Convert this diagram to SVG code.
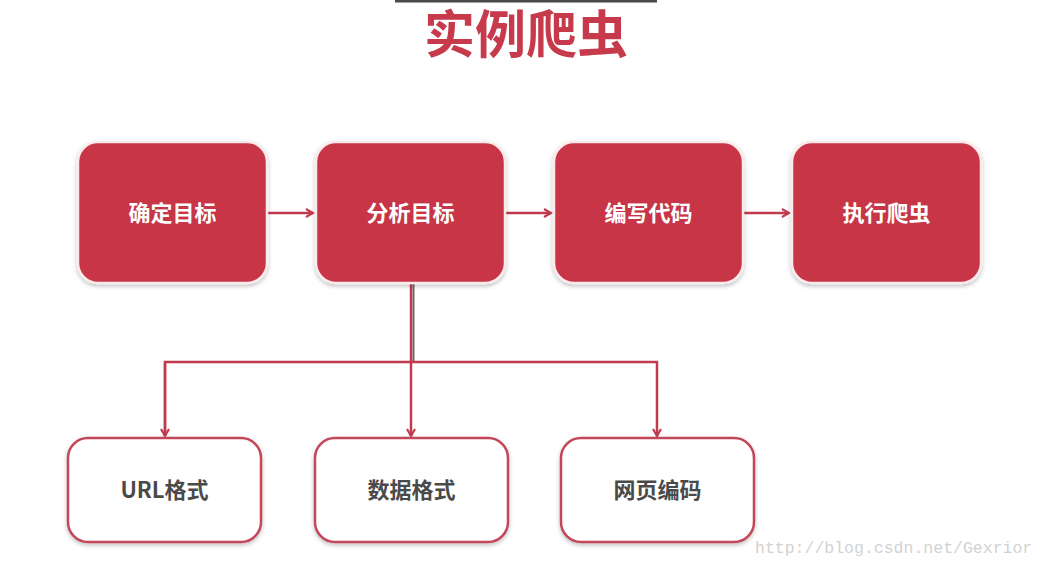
<svg xmlns="http://www.w3.org/2000/svg" width="1046" height="568" viewBox="0 0 1046 568">
<defs>
<style>
.top rect{fill:#c73647;stroke:#fbeaec;stroke-width:2.5}
.bot rect{fill:#fff;stroke:#c24658;stroke-width:2.5}
.tt{font-family:"Noto Sans CJK SC","Noto Sans",sans-serif;font-weight:700;font-size:22px;fill:#fff;text-anchor:middle}
.bt{font-family:"Noto Sans CJK SC","Noto Sans",sans-serif;font-weight:700;font-size:22px;fill:#4a4a4a;text-anchor:middle}
.ln{fill:none;stroke:#c23a4d;stroke-width:2.5}
</style>
<filter id="sh" x="-10%" y="-10%" width="120%" height="130%">
<feDropShadow dx="0" dy="2" stdDeviation="2" flood-color="#000" flood-opacity="0.25"/>
</filter>
<marker id="ah" markerWidth="10" markerHeight="10" refX="8" refY="5" orient="auto" markerUnits="userSpaceOnUse">
<path d="M1,1 L8,5 L1,9" fill="none" stroke="#c23a4d" stroke-width="2.2"/>
</marker>
</defs>
<rect width="1046" height="568" fill="#fff"/>
<rect x="395" y="0" width="262" height="2.5" fill="#4a4a4a"/>
<text x="526" y="53" font-family="'Noto Sans CJK SC',sans-serif" font-weight="700" font-size="51" fill="#c73a4c" text-anchor="middle">实例爬虫</text>
<g id="connectors">
<line class="ln" x1="268" y1="213" x2="313" y2="213" marker-end="url(#ah)"/>
<line class="ln" x1="506" y1="213" x2="551" y2="213" marker-end="url(#ah)"/>
<line class="ln" x1="744" y1="213" x2="789" y2="213" marker-end="url(#ah)"/>
<line x1="413.5" y1="284" x2="413.5" y2="362" stroke="#666" stroke-width="2"/>
<line class="ln" x1="411" y1="284" x2="411" y2="436" marker-end="url(#ah)"/>
<polyline class="ln" points="165,436 165,362 657,362 657,436" marker-end="url(#ah)"/>
<line class="ln" x1="165" y1="363" x2="165" y2="436" marker-end="url(#ah)"/>
</g>
<g id="n1" class="top"><rect x="78" y="142" width="189" height="141" rx="20" filter="url(#sh)"/><text class="tt" x="172.5" y="221">确定目标</text></g>
<g id="n2" class="top"><rect x="316" y="142" width="189" height="141" rx="20" filter="url(#sh)"/><text class="tt" x="410.5" y="221">分析目标</text></g>
<g id="n3" class="top"><rect x="554" y="142" width="189" height="141" rx="20" filter="url(#sh)"/><text class="tt" x="648.5" y="221">编写代码</text></g>
<g id="n4" class="top"><rect x="792" y="142" width="189" height="141" rx="20" filter="url(#sh)"/><text class="tt" x="886.5" y="221">执行爬虫</text></g>
<g id="n5" class="bot"><rect x="68" y="438" width="193" height="104" rx="20" filter="url(#sh)"/><text class="bt" x="164.5" y="498">URL格式</text></g>
<g id="n6" class="bot"><rect x="315" y="438" width="193" height="104" rx="20" filter="url(#sh)"/><text class="bt" x="411.5" y="498">数据格式</text></g>
<g id="n7" class="bot"><rect x="561" y="438" width="193" height="104" rx="20" filter="url(#sh)"/><text class="bt" x="657.5" y="498">网页编码</text></g>
<text x="755" y="553" font-family="'Liberation Mono',monospace" font-size="16.5" fill="#d2d2d2">http://blog.csdn.net/Gexrior</text>
</svg>
